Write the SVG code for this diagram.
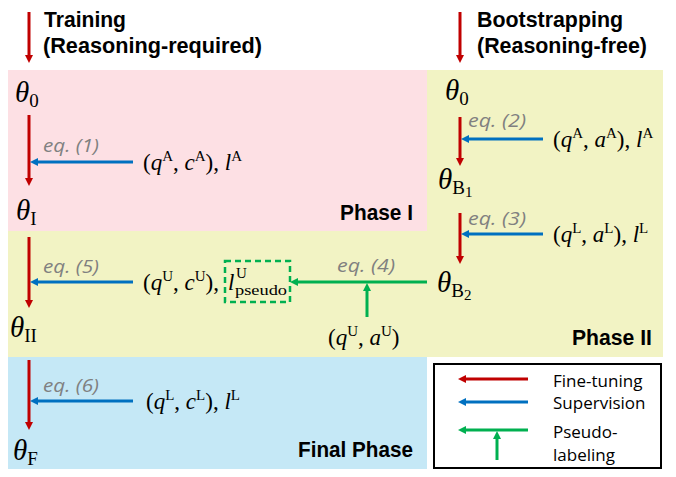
<svg xmlns="http://www.w3.org/2000/svg" width="676" height="477" viewBox="0 0 676 477">
<style>
.hdr{font-family:"Liberation Sans","Open Sans",sans-serif;font-weight:bold;font-size:22px;fill:#000}
.lg{font-family:"Open Sans","Liberation Sans",sans-serif;font-size:17px;fill:#000}
.eq{font-family:"Open Sans","Liberation Sans",sans-serif;font-style:italic;font-size:18px;fill:#808080}
.m{font-family:"Liberation Serif","DejaVu Serif",serif;font-size:23px;fill:#000}
.th{font-family:"Liberation Serif","DejaVu Serif",serif;font-size:29px;fill:#000}
.i{font-style:italic}
.sup{font-size:15px}
.sub{font-size:19px}
.sub2{font-size:15px}
.r{stroke:#c00000;stroke-width:3;fill:none}
.b{stroke:#0070c0;stroke-width:3;fill:none}
.g{stroke:#00b050;stroke-width:3;fill:none}
</style>
<defs>
<marker id="ar" viewBox="0 0 10 10" refX="3" refY="5" markerWidth="8" markerHeight="8" markerUnits="userSpaceOnUse" orient="auto"><path d="M0,0 L10,5 L0,10 z" fill="#c00000"/></marker>
<marker id="ab" viewBox="0 0 10 10" refX="3" refY="5" markerWidth="8" markerHeight="8" markerUnits="userSpaceOnUse" orient="auto"><path d="M0,0 L10,5 L0,10 z" fill="#0070c0"/></marker>
<marker id="ag" viewBox="0 0 10 10" refX="3" refY="5" markerWidth="8" markerHeight="8" markerUnits="userSpaceOnUse" orient="auto"><path d="M0,0 L10,5 L0,10 z" fill="#00b050"/></marker>
</defs>
<rect width="676" height="477" fill="#fff"/>
<g id="phase1-region"><rect x="8" y="70" width="419" height="161" fill="#fde0e4"/></g>
<g id="phase2-region"><path d="M427,70 H663 V357 H8 V231 H427 Z" fill="#f2f3c4"/></g>
<g id="final-region"><rect x="8" y="357" width="419" height="112" fill="#c5e8f6"/></g>
<g id="headers">
<text class="hdr" x="44" y="27" textLength="82" lengthAdjust="spacingAndGlyphs">Training</text>
<text class="hdr" x="43" y="53" textLength="219" lengthAdjust="spacingAndGlyphs">(Reasoning-required)</text>
<text class="hdr" x="477" y="27" textLength="146" lengthAdjust="spacingAndGlyphs">Bootstrapping</text>
<text class="hdr" x="477" y="53" textLength="170" lengthAdjust="spacingAndGlyphs">(Reasoning-free)</text>
</g>
<g id="phase-labels">
<text class="hdr" x="340" y="220" textLength="73" lengthAdjust="spacingAndGlyphs">Phase I</text>
<text class="hdr" x="572" y="345" textLength="80" lengthAdjust="spacingAndGlyphs">Phase II</text>
<text class="hdr" x="298" y="457" textLength="115" lengthAdjust="spacingAndGlyphs">Final Phase</text>
</g>
<g id="theta0-left"><text class="th" x="15" y="102"><tspan class="i">θ</tspan><tspan class="sub" dy="5">0</tspan></text></g>
<g id="thetaI"><text class="th" x="16" y="220"><tspan class="i">θ</tspan><tspan class="sub" dy="5">I</tspan></text></g>
<g id="thetaII"><text class="th" x="10" y="337"><tspan class="i">θ</tspan><tspan class="sub" dy="5">II</tspan></text></g>
<g id="thetaF"><text class="th" x="13" y="460"><tspan class="i">θ</tspan><tspan class="sub" dy="5">F</tspan></text></g>
<g id="theta0-right"><text class="th" x="445" y="100"><tspan class="i">θ</tspan><tspan class="sub" dy="5">0</tspan></text></g>
<g id="thetaB1"><text class="th" x="438" y="189"><tspan class="i">θ</tspan><tspan class="sub" dy="5">B</tspan><tspan class="sub2" dy="3">1</tspan></text></g>
<g id="thetaB2"><text class="th" x="437" y="292"><tspan class="i">θ</tspan><tspan class="sub" dy="5">B</tspan><tspan class="sub2" dy="3">2</tspan></text></g>
<g id="data-A-c"><text class="m" x="143" y="170">(<tspan class="i">q</tspan><tspan class="sup" dy="-9">A</tspan><tspan dy="9">, </tspan><tspan class="i">c</tspan><tspan class="sup" dy="-9">A</tspan><tspan dy="9">), </tspan><tspan class="i">l</tspan><tspan class="sup" dy="-9">A</tspan></text></g>
<g id="data-A-a"><text class="m" x="553" y="147">(<tspan class="i">q</tspan><tspan class="sup" dy="-9">A</tspan><tspan dy="9">, </tspan><tspan class="i">a</tspan><tspan class="sup" dy="-9">A</tspan><tspan dy="9">), </tspan><tspan class="i">l</tspan><tspan class="sup" dy="-9">A</tspan></text></g>
<g id="data-L-a"><text class="m" x="553" y="242">(<tspan class="i">q</tspan><tspan class="sup" dy="-9">L</tspan><tspan dy="9">, </tspan><tspan class="i">a</tspan><tspan class="sup" dy="-9">L</tspan><tspan dy="9">), </tspan><tspan class="i">l</tspan><tspan class="sup" dy="-9">L</tspan></text></g>
<g id="data-U-c"><text class="m" x="143" y="290">(<tspan class="i">q</tspan><tspan class="sup" dy="-9">U</tspan><tspan dy="9">, </tspan><tspan class="i">c</tspan><tspan class="sup" dy="-9">U</tspan><tspan dy="9">),</tspan></text></g>
<g id="pseudo-label">
<rect x="225" y="261" width="65" height="41" fill="none" stroke="#00b050" stroke-width="2.5" stroke-dasharray="6,4"/>
<text class="m" x="228" y="290"><tspan class="i">l</tspan></text>
<text class="m sup" x="236" y="278">U</text>
<text class="m sup" x="235" y="295" textLength="52" lengthAdjust="spacingAndGlyphs">pseudo</text>
</g>
<g id="data-U-a"><text class="m" x="328" y="345">(<tspan class="i">q</tspan><tspan class="sup" dy="-9">U</tspan><tspan dy="9">, </tspan><tspan class="i">a</tspan><tspan class="sup" dy="-9">U</tspan><tspan dy="9">)</tspan></text></g>
<g id="data-L-c"><text class="m" x="146" y="409">(<tspan class="i">q</tspan><tspan class="sup" dy="-9">L</tspan><tspan dy="9">, </tspan><tspan class="i">c</tspan><tspan class="sup" dy="-9">L</tspan><tspan dy="9">), </tspan><tspan class="i">l</tspan><tspan class="sup" dy="-9">L</tspan></text></g>
<g id="eq-labels">
<text class="eq" x="43" y="152" textLength="56" lengthAdjust="spacingAndGlyphs">eq. (1)</text>
<text class="eq" x="468" y="127" textLength="58" lengthAdjust="spacingAndGlyphs">eq. (2)</text>
<text class="eq" x="468" y="225" textLength="58" lengthAdjust="spacingAndGlyphs">eq. (3)</text>
<text class="eq" x="337" y="272" textLength="58" lengthAdjust="spacingAndGlyphs">eq. (4)</text>
<text class="eq" x="43" y="273" textLength="56" lengthAdjust="spacingAndGlyphs">eq. (5)</text>
<text class="eq" x="43" y="392" textLength="56" lengthAdjust="spacingAndGlyphs">eq. (6)</text>
</g>
<g id="connectors">
<line class="r" x1="29" y1="12" x2="29" y2="57.4" marker-end="url(#ar)"/>
<line class="r" x1="460" y1="12" x2="460" y2="57.4" marker-end="url(#ar)"/>
<line class="r" x1="29" y1="115" x2="29" y2="180.4" marker-end="url(#ar)"/>
<line class="b" x1="133" y1="162" x2="35.6" y2="162" marker-end="url(#ab)"/>
<line class="r" x1="460" y1="117" x2="460" y2="160.4" marker-end="url(#ar)"/>
<line class="b" x1="543" y1="139" x2="466.6" y2="139" marker-end="url(#ab)"/>
<line class="r" x1="460" y1="213" x2="460" y2="258.4" marker-end="url(#ar)"/>
<line class="b" x1="543" y1="234" x2="466.6" y2="234" marker-end="url(#ab)"/>
<line class="g" x1="427" y1="282" x2="295.6" y2="282" marker-end="url(#ag)"/>
<line class="g" x1="367" y1="317" x2="367" y2="288.6" marker-end="url(#ag)"/>
<line class="r" x1="29" y1="237" x2="29" y2="302.4" marker-end="url(#ar)"/>
<line class="b" x1="133" y1="282" x2="35.6" y2="282" marker-end="url(#ab)"/>
<line class="r" x1="29" y1="360" x2="29" y2="424.4" marker-end="url(#ar)"/>
<line class="b" x1="133" y1="401" x2="35.6" y2="401" marker-end="url(#ab)"/>
</g>
<g id="legend">
<rect x="434" y="364" width="227" height="104" fill="#fff" stroke="#000" stroke-width="2"/>
<line class="r" x1="528" y1="379" x2="463.6" y2="379" marker-end="url(#ar)"/>
<line class="b" x1="528" y1="402" x2="463.6" y2="402" marker-end="url(#ab)"/>
<line class="g" x1="528" y1="430" x2="463.6" y2="430" marker-end="url(#ag)"/>
<line class="g" x1="497" y1="460" x2="497" y2="436.6" marker-end="url(#ag)"/>
<text class="lg" x="553" y="387">Fine-tuning</text>
<text class="lg" x="553" y="409">Supervision</text>
<text class="lg" x="553" y="438">Pseudo-</text>
<text class="lg" x="553" y="461">labeling</text>
</g>
</svg>
